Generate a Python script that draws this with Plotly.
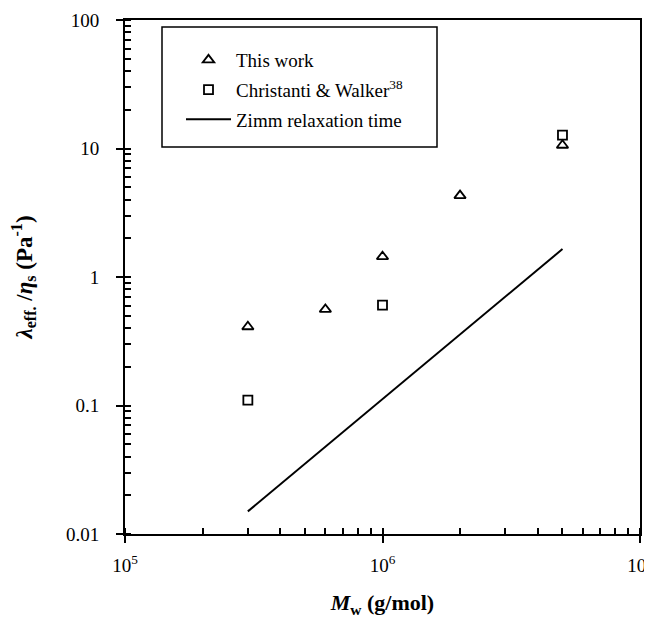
import plotly.graph_objects as go

# Data
this_work_mw = [3e5, 6e5, 1e6, 2e6, 5e6]
this_work_val = [0.41, 0.56, 1.44, 4.3, 10.6]

cw_mw = [3e5, 1e6, 5e6]
cw_val = [0.11, 0.605, 12.7]

zimm_mw = [3e5, 5e6]
zimm_val = [0.0150, 1.65]

x_tickvals = [1e5, 1e6, 1e7]
x_ticktext = ["10<sup>5</sup>", "10<sup>6</sup>", "10<sup>7</sup>"]
y_tickvals = [0.01, 0.1, 1, 10, 100]
y_ticktext = ["0.01", "0.1", "1", "10", "100"]

FONT = "Liberation Serif"

# page body has an 8px margin; compensate so the plot lands where the reference has it
OFF = 8
W, H = 652 - 2 * OFF, 626 - 2 * OFF
PL, PR, PT, PB = 125 - OFF, 640 - OFF, 20 - OFF, 534 - OFF  # plot area in figure px


def px_x(px):
    return (px - OFF - PL) / (PR - PL)


def px_y(py):
    return 1 - (py - OFF - PT) / (PB - PT)


fig = go.Figure()
fig.add_trace(go.Scatter(
    x=this_work_mw, y=this_work_val, mode="markers", name="This work",
    legendgroup="a",
    marker=dict(symbol="triangle-up-open", size=10, color="black",
                line=dict(width=1.8, color="black")),
))
fig.add_trace(go.Scatter(
    x=cw_mw, y=cw_val, mode="markers", name="Christanti &amp; Walker<sup>38</sup>",
    legendgroup="b",
    marker=dict(symbol="square-open", size=9, color="black",
                line=dict(width=1.8, color="black")),
))
fig.add_trace(go.Scatter(
    x=zimm_mw, y=zimm_val, mode="lines", name="Zimm relaxation time",
    legendgroup="c",
    line=dict(color="black", width=2),
))

axis_common = dict(
    type="log", showline=True, linecolor="black", linewidth=2, mirror=True,
    showgrid=False, zeroline=False, ticks="outside", ticklen=7, tickwidth=1.5,
    tickcolor="black", automargin=False, ticklabeloverflow="allow",
    tickfont=dict(family=FONT, size=19, color="black"),
    minor=dict(ticks="inside", ticklen=6, tickwidth=1.5, tickcolor="black",
               dtick="D1", showgrid=False),
)

fig.update_xaxes(
    **axis_common, range=[5, 7], tickmode="array",
    tickvals=x_tickvals, ticktext=x_ticktext, ticklabelstandoff=6,
    title=dict(text="<b><i>M</i><sub>w</sub> (g/mol)</b>",
               font=dict(family=FONT, size=22, color="black"), standoff=25),
)
fig.update_yaxes(
    **axis_common, range=[-2, 2], tickmode="array",
    tickvals=y_tickvals, ticktext=y_ticktext, ticklabelstandoff=13,
    title=dict(text="<b><i>λ</i><sub>eff.</sub> /<i>η</i><sub>s</sub> (Pa<sup>-1</sup>)</b>",
               font=dict(family=FONT, size=23, color="black"), standoff=28),
)

# legend frame
fig.add_shape(type="rect", xref="paper", yref="paper",
              x0=px_x(162), x1=px_x(437), y0=px_y(147), y1=px_y(27),
              line=dict(color="black", width=1.5), fillcolor="rgba(0,0,0,0)")

fig.update_layout(
    width=W, height=H,
    margin=dict(l=PL, r=W - PR, t=PT, b=H - PB),
    paper_bgcolor="white", plot_bgcolor="white",
    font=dict(family=FONT, color="black"),
    showlegend=True,
    legend=dict(x=px_x(181), y=px_y(41), xanchor="left", yanchor="top",
                bgcolor="rgba(0,0,0,0)", borderwidth=0, tracegroupgap=2,
                itemwidth=45,
                font=dict(family=FONT, size=19, color="black")),
)

fig.write_html("out.html")
